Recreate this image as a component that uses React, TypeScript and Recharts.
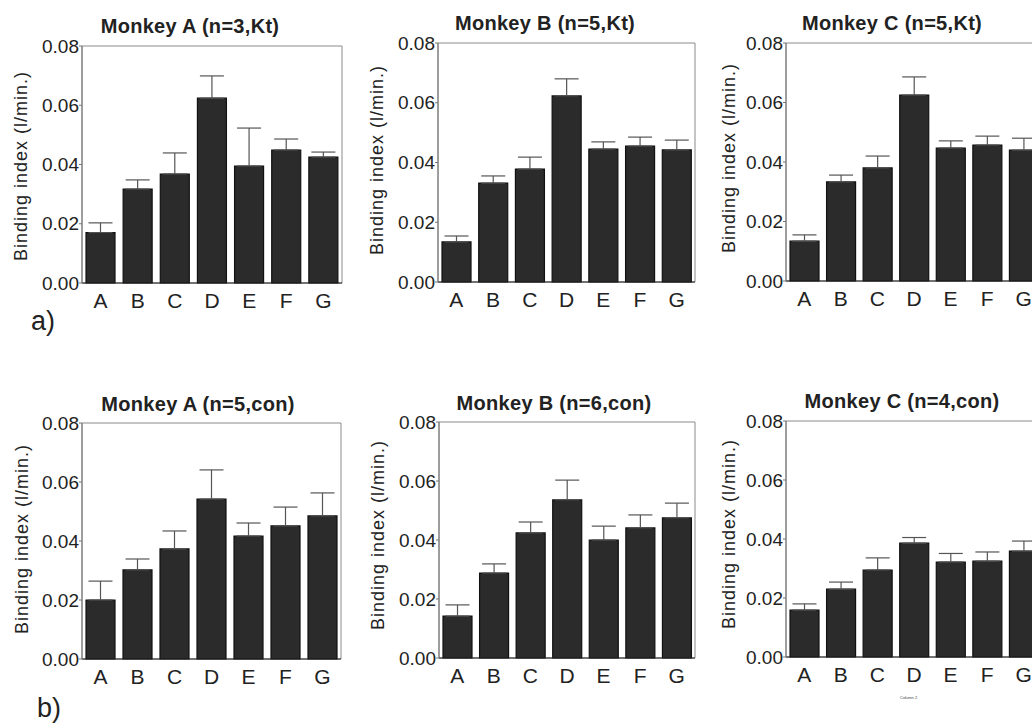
import React from "react";
import {
  BarChart,
  Bar,
  XAxis,
  YAxis,
  ErrorBar,
  ReferenceArea,
} from "recharts";

// categories along the x axis
const categories = ["A", "B", "C", "D", "E", "F", "G"];
const yTicks = [0, 0.02, 0.04, 0.06, 0.08];

// a) Kt
const ktMonkeyA = [0.017, 0.0317, 0.0368, 0.0624, 0.0395, 0.0449, 0.0425];
const ktMonkeyAErr = [0.0033, 0.0031, 0.0071, 0.0075, 0.0128, 0.0037, 0.0017];
const ktMonkeyB = [0.0134, 0.0331, 0.0378, 0.0623, 0.0445, 0.0455, 0.0442];
const ktMonkeyBErr = [0.002, 0.0024, 0.004, 0.0057, 0.0024, 0.003, 0.0033];
const ktMonkeyC = [0.0134, 0.0333, 0.038, 0.0625, 0.0447, 0.0457, 0.044];
const ktMonkeyCErr = [0.0021, 0.0023, 0.004, 0.0061, 0.0024, 0.003, 0.004];

// b) con
const conMonkeyA = [0.02, 0.0302, 0.0373, 0.0542, 0.0417, 0.0451, 0.0485];
const conMonkeyAErr = [0.0064, 0.0037, 0.0061, 0.0099, 0.0044, 0.0064, 0.0078];
const conMonkeyB = [0.0142, 0.0288, 0.0424, 0.0536, 0.04, 0.0441, 0.0475];
const conMonkeyBErr = [0.0038, 0.0031, 0.0037, 0.0067, 0.0047, 0.0044, 0.005];
const conMonkeyC = [0.0159, 0.023, 0.0295, 0.0386, 0.0322, 0.0325, 0.0359];
const conMonkeyCErr = [0.0021, 0.0024, 0.0041, 0.0019, 0.0029, 0.0031, 0.0034];

const FONT = '"Liberation Sans", Arial, Helvetica, sans-serif';
const YW = 60;
const XH = 40;
const MT = 12;
const MR = 6;

const panels = [
  { title: "Monkey A (n=3,Kt)", values: ktMonkeyA, errors: ktMonkeyAErr, box: [82, 46, 342, 283], titleAt: [190, 26], labelAt: [21, 166] },
  { title: "Monkey B (n=5,Kt)", values: ktMonkeyB, errors: ktMonkeyBErr, box: [438, 43, 695, 282], titleAt: [545, 23], labelAt: [377, 160] },
  { title: "Monkey C (n=5,Kt)", values: ktMonkeyC, errors: ktMonkeyCErr, box: [786, 43, 1042, 281], titleAt: [892, 23], labelAt: [729, 158] },
  { title: "Monkey A (n=5,con)", values: conMonkeyA, errors: conMonkeyAErr, box: [82, 423, 341, 659], titleAt: [198, 404], labelAt: [22, 539] },
  { title: "Monkey B (n=6,con)", values: conMonkeyB, errors: conMonkeyBErr, box: [439, 422, 695, 658], titleAt: [554, 403], labelAt: [378, 535] },
  { title: "Monkey C (n=4,con)", values: conMonkeyC, errors: conMonkeyCErr, box: [786, 421, 1042, 657], titleAt: [902, 401], labelAt: [729, 534] },
];

function Panel({ p }: { p: (typeof panels)[number] }) {
  const [x0, y0, x1, y1] = p.box;
  const data = categories.map((c, i) => ({
    name: c,
    value: p.values[i],
    err: [0, p.errors[i]],
  }));
  const left = x0 - YW;
  const top = y0 - MT;
  const width = x1 - x0 + YW + MR;
  const height = y1 - y0 + MT + XH;

  return (
    <>
      <div style={{ position: "absolute", left, top }}>
        <BarChart
          width={width}
          height={height}
          data={data}
          margin={{ top: MT, right: MR, left: 0, bottom: 0 }}
        >
          <XAxis
            dataKey="name"
            height={XH}
            tickLine={false}
            tickSize={4}
            tickMargin={6}
            axisLine={{ stroke: "#222", strokeWidth: 1.2 }}
            tick={{ fontSize: 21, fill: "#222", fontFamily: FONT }}
            interval={0}
          />
          <YAxis
            width={YW}
            domain={[0, 0.08]}
            ticks={yTicks}
            tickFormatter={(v: number) => v.toFixed(2)}
            tickSize={3}
            tickMargin={0}
            axisLine={{ stroke: "#777" }}
            tickLine={{ stroke: "#777" }}
            tick={{ fontSize: 19, fill: "#222", fontFamily: FONT }}
          />
          <ReferenceArea y1={0} y2={0.08} fill="none" stroke="#8a8a8a" strokeWidth={1} />
          <Bar
            dataKey="value"
            fill="#2b2b2b"
            stroke="#111"
            strokeWidth={1.2}
            barSize={29}
            isAnimationActive={false}
          >
            <ErrorBar dataKey="err" width={12} stroke="#555" strokeWidth={1.2} direction="y" />
          </Bar>
        </BarChart>
      </div>
      <div
        style={{
          position: "absolute",
          left: p.titleAt[0] - 150,
          top: p.titleAt[1] - 12,
          width: 300,
          lineHeight: "24px",
          textAlign: "center",
          fontFamily: FONT,
          fontWeight: "bold",
          fontSize: 20,
          letterSpacing: 0.3,
          color: "#222",
          whiteSpace: "nowrap",
        }}
      >
        {p.title}
      </div>
      <div
        style={{
          position: "absolute",
          left: p.labelAt[0] - 150,
          top: p.labelAt[1] - 12,
          width: 300,
          lineHeight: "24px",
          textAlign: "center",
          fontFamily: FONT,
          fontSize: 18,
          letterSpacing: 1,
          color: "#222",
          whiteSpace: "nowrap",
          transform: "rotate(-90deg)",
        }}
      >
        Binding index (l/min.)
      </div>
    </>
  );
}

export default function App() {
  return (
    <div
      style={{
        position: "absolute",
        left: 0,
        top: 0,
        width: 1032,
        height: 727,
        overflow: "hidden",
        background: "#fff",
        fontFamily: FONT,
      }}
    >
      {panels.map((p) => (
        <Panel key={p.title} p={p} />
      ))}
      <div style={{ position: "absolute", left: 31, top: 306, fontSize: 27, lineHeight: "30px", color: "#222" }}>a)</div>
      <div style={{ position: "absolute", left: 37, top: 693, fontSize: 27, lineHeight: "30px", color: "#222" }}>b)</div>
      <div style={{ position: "absolute", left: 900, top: 695, fontSize: 4, lineHeight: "6px", color: "#444" }}>Column 2</div>
    </div>
  );
}
